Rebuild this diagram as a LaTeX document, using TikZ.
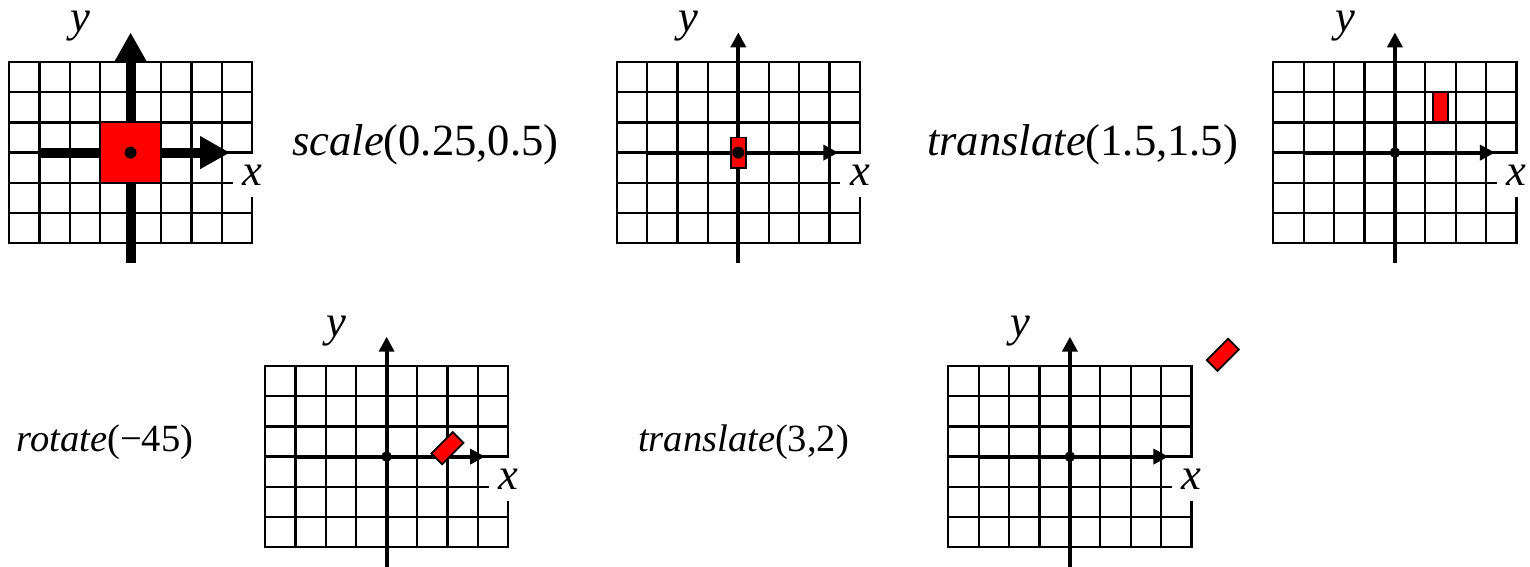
\documentclass[tikz,border=0pt]{standalone}
\usepackage{fontspec}
\setmainfont{Liberation Serif}
\usetikzlibrary{arrows.meta}
\newcommand\drawgridframe{%
  \foreach \i in {-4,...,4} \draw[gridline] (\i,-3) -- (\i,3);
  \foreach \j in {-3,...,3} \draw[gridline] (-4,\j) -- (4,\j);
}
\begin{document}
\begin{tikzpicture}[x=1pt,y=-1pt,
  gridline/.style={line width=2.3pt,line cap=rect},
  thinaxis/.style={line width=4pt,-{Triangle[length=15pt,width=15pt]}},
  thickaxis/.style={line width=10pt,-{Triangle[length=30pt,width=31pt]}},
  redbox/.style={fill=red,draw=black,line width=1.8pt},
  dot/.style={fill=black},
  xlab/.style={fill=white,inner sep=0pt,minimum width=39pt,minimum height=42.4pt,font=\fontsize{44.6}{50}\selectfont\itshape},
  ylab/.style={inner sep=0pt,anchor=base,font=\fontsize{44.6}{50}\selectfont\itshape},
  bigtxt/.style={inner sep=0pt,anchor=base west,font=\fontsize{44.6}{50}\selectfont},
  smalltxt/.style={inner sep=0pt,anchor=base west,font=\fontsize{38.5}{44}\selectfont},
  gridunit/.style={x=30.4pt,y=30.2pt}
]
\fill[white] (0,0) rectangle (1530,567);
\useasboundingbox (0,0) rectangle (1530,567);

% grid 1
\begin{scope}[shift={(130.6,152.6)},gridunit]
  \drawgridframe
  \draw[thickaxis] (-3,0) -- (3.27,0);
  \draw[thickaxis] (0,-3.66) -- (0,3.98);
  \draw[redbox] (-1,-1) rectangle (1,1);
  \fill[dot] (0,0) circle[radius=6pt];
  \node[xlab] (x1) at (4,-0.76) {x};
  \node[ylab] (y1) at (-1.64,4.0) {y};
\end{scope}

% grid 2
\begin{scope}[shift={(738.3,152.6)},gridunit]
  \drawgridframe
  \draw[thinaxis] (-3,0) -- (3.29,0);
  \draw[thinaxis] (0,-3.66) -- (0,3.98);
  \draw[redbox] (-0.25,-0.5) rectangle (0.25,0.5);
  \fill[dot] (0,0) circle[radius=6pt];
  \node[xlab] (x2) at (4,-0.76) {x};
  \node[ylab] (y2) at (-1.64,4.0) {y};
\end{scope}

% grid 3
\begin{scope}[shift={(1394.9,152.6)},gridunit]
  \drawgridframe
  \draw[thinaxis] (-3,0) -- (3.29,0);
  \draw[thinaxis] (0,-3.66) -- (0,3.98);
  \draw[redbox] (1.25,1) rectangle (1.75,2);
  \fill[dot] (0,0) circle[radius=5.3pt];
  \node[xlab] (x3) at (4,-0.76) {x};
  \node[ylab] (y3) at (-1.64,4.0) {y};
\end{scope}

% grid 4
\begin{scope}[shift={(386.6,456.6)},gridunit]
  \drawgridframe
  \draw[thinaxis] (-3,0) -- (3.24,0);
  \draw[thinaxis] (0,-3.7) -- (0,3.97);
  \fill[dot] (0,0) circle[radius=5.3pt];
  \draw[redbox,shift={(2.0,0.28)},rotate=-45] (-0.25,-0.5) rectangle (0.25,0.5);
  \node[xlab] (x4) at (4,-0.76) {x};
  \node[ylab] (y4) at (-1.64,3.97) {y};
\end{scope}

% grid 5
\begin{scope}[shift={(1069.9,456.6)},gridunit]
  \drawgridframe
  \draw[thinaxis] (-3,0) -- (3.24,0);
  \draw[thinaxis] (0,-3.7) -- (0,3.97);
  \fill[dot] (0,0) circle[radius=5.3pt];
  \draw[redbox,shift={(5.03,3.37)},rotate=-45] (-0.25,-0.5) rectangle (0.25,0.5);
  \node[xlab] (x5) at (4,-0.76) {x};
  \node[ylab] (y5) at (-1.64,3.97) {y};
\end{scope}

% transformation labels
\node[bigtxt] (t1) at (292,155) {\textit{scale}(0.25,0.5)};
\node[bigtxt] (t2) at (927,155) {\textit{translate}(1.5,1.5)};
\node[smalltxt] (t3) at (16.7,451.7) {\textit{rotate}(−45)};
\node[smalltxt] (t4) at (638,451.7) {\textit{translate}(3,2)};
\end{tikzpicture}
\end{document}
